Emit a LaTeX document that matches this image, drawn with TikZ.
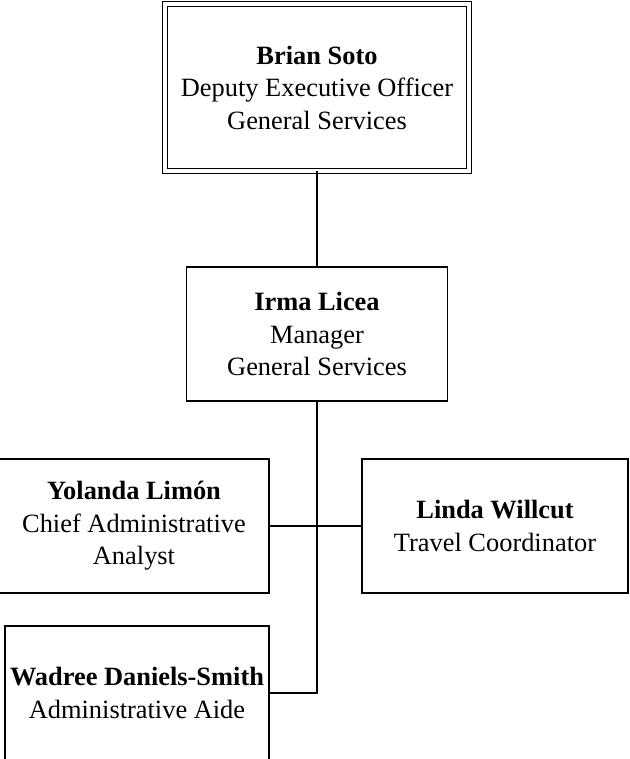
\documentclass[tikz,border=0pt]{standalone}
\usepackage{fontspec}
\setmainfont{Liberation Serif}
\usetikzlibrary{positioning}

\begin{document}
\begin{tikzpicture}[x=0.5pt,y=-0.5pt,on grid,line width=0.6pt,
            post/.style={draw,align=center,inner sep=0pt,minimum width=130.5pt,minimum height=67pt,
            	font=\fontsize{13.2}{16.25}\selectfont},
            chief/.style={post,double,double distance=2pt,line width=0.5pt,minimum width=152pt,minimum height=83.5pt}]
            \useasboundingbox (0,0) rectangle (629,759);
            \node [chief] (soto) at (317,87.5) {\textbf{Brian Soto}\\Deputy Executive Officer\\General Services};
            \node [post] [below=123.25pt of soto] (irma) {\textbf{Irma Licea}\\Manager\\General Services};
            \node [post, minimum width=135pt] [below left=96pt and 91.5pt of irma] (yolanda) {\textbf{Yolanda Limón}\\Chief Administrative\\Analyst};
            \node [post, minimum width=133pt] [below right=96pt and 89pt of irma] (linda) {\textbf{Linda Willcut}\\Travel Coordinator};
            \node [post, minimum width=132pt] [below=83.5pt of yolanda, xshift=1.5pt] (wadree) {\textbf{Wadree Daniels-Smith}\\Administrative Aide};
            \draw (soto) -- (irma);
            \draw (irma.south) |- (wadree.east);
            \draw (yolanda.east) -- (linda.west);
            \end{tikzpicture}
\end{document}
